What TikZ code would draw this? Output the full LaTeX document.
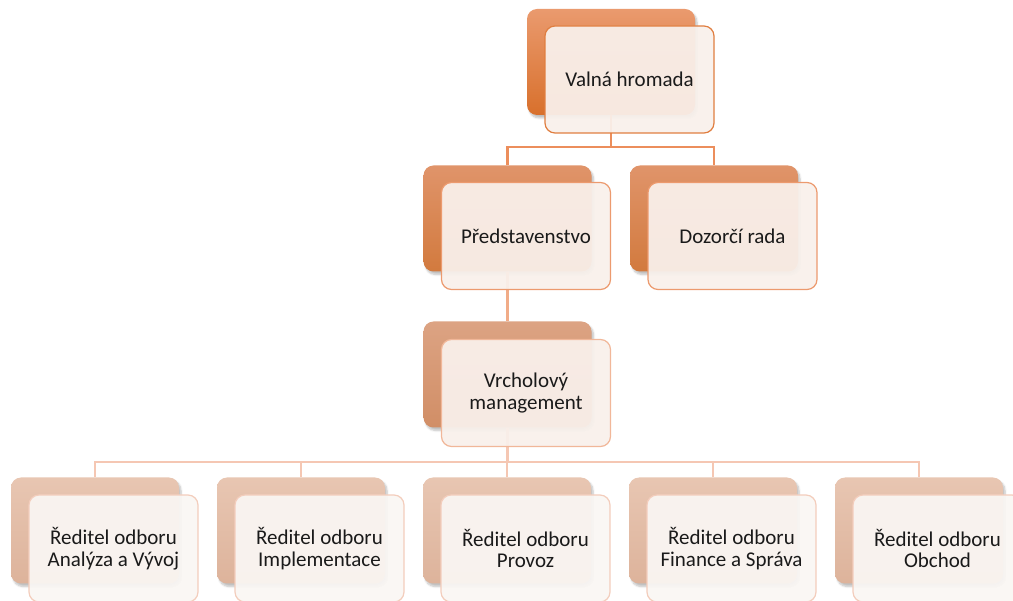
\documentclass[tikz,border=0pt]{standalone}
\usepackage{fontspec}
\setmainfont{Carlito}
\usetikzlibrary{shadows.blur}
\definecolor{backAt}{HTML}{EA9A6E}
\definecolor{backAb}{HTML}{D8702C}
\definecolor{backBt}{HTML}{E0946A}
\definecolor{backBb}{HTML}{D27A3E}
\definecolor{backCt}{HTML}{DCA383}
\definecolor{backCb}{HTML}{D18E66}
\definecolor{backDt}{HTML}{E8C6B2}
\definecolor{backDb}{HTML}{DDB39B}
\definecolor{frontA}{HTML}{E07E40}
\definecolor{frontB}{HTML}{EC9A6E}
\definecolor{frontC}{HTML}{F1B799}
\definecolor{frontD}{HTML}{F3CDBC}
\definecolor{fillA}{HTML}{F9F0EB}
\definecolor{fillD}{HTML}{FAF6F3}
\definecolor{lineA}{HTML}{EC8E5C}
\definecolor{lineB}{HTML}{F1AC88}
\definecolor{lineC}{HTML}{F5C7B3}
\definecolor{txt}{HTML}{1A1A1A}
\begin{document}
\begin{tikzpicture}[x=1pt,y=-1pt,
  backbox/.style={rounded corners=10pt, minimum width=168pt, minimum height=106pt, inner sep=0pt,
    blur shadow={shadow xshift=2pt, shadow yshift=-3pt, shadow blur steps=6, shadow opacity=25}},
  lvA/.style={backbox, top color=backAt, bottom color=backAb},
  lvB/.style={backbox, top color=backBt, bottom color=backBb},
  lvC/.style={backbox, top color=backCt, bottom color=backCb},
  lvD/.style={backbox, top color=backDt, bottom color=backDb},
  frontbox/.style={rounded corners=10pt, minimum width=169pt, minimum height=107pt, inner sep=2pt,
    line width=1.2pt, fill opacity=0.94, text opacity=1, align=center, text=txt,
    font=\fontsize{21}{21.5}\selectfont},
  fA/.style={frontbox, draw=frontA, fill=fillA},
  fB/.style={frontbox, draw=frontB, fill=fillA},
  fC/.style={frontbox, draw=frontC, fill=fillA},
  fD/.style={frontbox, draw=frontD, fill=fillD},
  conn/.style={line width=2.4pt}
]
\useasboundingbox (0,0) rectangle (1013,601);

% back boxes
\node[lvA] (b1) at (611,62) {};
\node[lvB] (b2a) at (507.5,218.5) {};
\node[lvB] (b2b) at (714,218.5) {};
\node[lvC] (b3) at (507.5,374.5) {};
\node[lvD] (b4a) at (95,530.5) {};
\node[lvD] (b4b) at (301,530.5) {};
\node[lvD] (b4c) at (507,530.5) {};
\node[lvD] (b4d) at (713,530.5) {};
\node[lvD] (b4e) at (919,530.5) {};

% connectors
\coordinate (j1) at (611,147);
\draw[conn, draw=lineA] (b1.south) -- (j1);
\draw[conn, draw=lineA] (b2a.north) |- (j1) -| (b2b.north);
\draw[conn, draw=lineB] (b2a.south) -- (b3.north);
\coordinate (j3) at (507.5,462);
\draw[conn, draw=lineC] (b3.south) -- (j3);
\draw[conn, draw=lineC] (b4a.north) |- (j3) -| (b4e.north);
\draw[conn, draw=lineC] (b4b.north) -- (b4b.north |- j3);
\draw[conn, draw=lineC] (b4c.north) -- (b4c.north |- j3);
\draw[conn, draw=lineC] (b4d.north) -- (b4d.north |- j3);

% front boxes
\node[fA] (f1) at (629.5,79.5) {Valná hromada};
\node[fB] (f2a) at (526,236) {Představenstvo};
\node[fB] (f2b) at (732.5,236) {Dozorčí rada};
\node[fC] (f3) at (526,393) {Vrcholový\\management};
\node[fD] (f4a) at (113.5,548.5) {Ředitel odboru\\Analýza a Vývoj};
\node[fD] (f4b) at (319.5,548.5) {Ředitel odboru\\Implementace};
\node[fD] (f4c) at (525.5,548.5) {Ředitel odboru\\Provoz};
\node[fD] (f4d) at (731.5,548.5) {Ředitel odboru\\Finance a Správa};
\node[fD] (f4e) at (937.5,548.5) {Ředitel odboru\\Obchod};
\end{tikzpicture}
\end{document}
